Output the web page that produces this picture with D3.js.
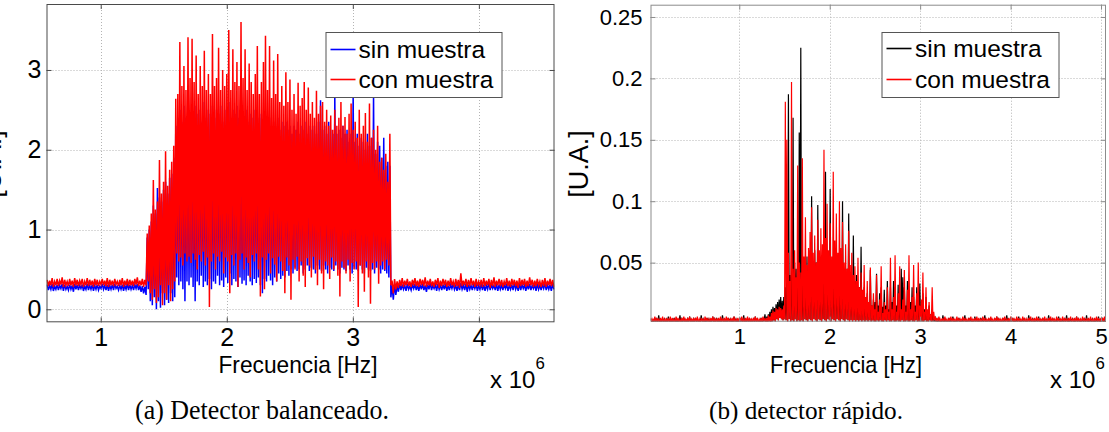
<!DOCTYPE html>
<html>
<head>
<meta charset="utf-8">
<script src="https://cdn.jsdelivr.net/npm/d3@7"></script>
<style>
  html, body { margin: 0; padding: 0; background: #fff; }
  svg { display: block; }
</style>
</head>
<body>
<svg id="fig" width="1109" height="432"></svg>
<script>
// ---------------- data ----------------
const seriesNames = ["sin muestra", "con muestra"];

// tick values (frequency in units of 10^6 Hz)
const ticksAx = [1, 2, 3, 4];
const ticksAy = [0, 1, 2, 3];
const ticksBx = [1, 2, 3, 4, 5];
const ticksBy = [0.05, 0.1, 0.15, 0.2, 0.25];

// frequency stretches (x 10^6 Hz); each series array below is sampled evenly over its stretch,
// alternating local maxima and minima of the spectrum
const spansA = [[0.57, 1.365], [1.365, 3.306], [3.306, 4.6]];
const spansB = [[0.0185, 1.30], [1.30, 3.18], [3.18, 5.055]];

// (a) detector balanceado — sin muestra
const sinA1 = [
  .31,.24,.30,.25,.32,.23,.29,.25,.31,.24,.30,.26,.32,.23,.31,.25,.29,.24,.31,.25,
  .30,.22,.32,.25,.31,.24,.30,.26,.31,.23,.29,.25,.32,.24,.30,.25,.31,.23,.30,.25,
  .31,.24,.29,.26,.32,.25,.30,.24,.31,.23,.30,.25,.31,.24,.32,.26,.29,.24,.30,.25,
  .31,.23,.30,.25,.32,.24,.31,.25,.30,.24,.31,.26,.32,.24,.30,.22,.29,.20,.28,.18
];
const sinA2 = [
  .90,.25,1.00,.10,1.10,.05,1.30,.15,1.20,.00,1.52,.10,1.40,.02,1.35,.20,1.50,.05,1.60,.12,
  1.45,.08,1.65,.20,1.70,.10,1.90,.15,2.30,.40,2.40,.30,2.50,.35,2.35,.25,2.55,.10,2.40,.35,
  2.60,.30,2.45,.40,2.50,.28,2.40,.10,2.55,.35,2.45,.30,2.50,.42,2.35,.28,2.60,.35,2.40,.30,
  2.50,.38,2.45,.25,2.55,.35,2.40,.32,2.50,.42,2.45,.30,2.55,.36,2.35,.28,2.50,.40,2.45,.33,
  2.60,.45,2.40,.30,2.50,.38,2.45,.35,2.55,.28,2.40,.40,2.50,.32,2.45,.36,2.40,.30,2.50,.42,
  2.35,.35,2.45,.30,2.40,.38,2.50,.33,2.35,.40,2.40,.30,2.45,.20,2.35,.38,2.40,.35,2.30,.42,
  2.40,.36,2.30,.30,2.35,.40,2.30,.35,2.40,.45,2.25,.38,2.35,.42,2.30,.40,2.35,.48,2.25,.42,
  2.30,.50,2.20,.45,2.30,.52,2.25,.48,2.35,.50,2.20,.55,2.30,.45,2.25,.50,2.35,.55,2.20,.48,
  2.30,.52,2.25,.50,2.30,.45,2.20,.55,2.35,.50,2.62,.48,2.25,.55,2.30,.50,2.20,.45,2.35,.52,
  2.25,.50,2.20,.48,2.72,.55,2.20,.50,2.25,.45,2.15,.52,2.30,.50,2.20,.48,2.25,.55,2.10,.50,
  2.20,.45,2.75,.52,2.10,.50,2.20,.48,2.05,.55,2.15,.50,2.10,.45,2.00,.52,2.20,.50,2.05,.48,
  2.15,.50,2.70,.45,1.95,.52,2.10,.50,2.05,.45,1.90,.50,2.15,.48,1.80,.45,1.85,.40,1.80,.15
];
const sinA3 = [
  .30,.12,.31,.18,.30,.22,.32,.24,.31,.25,.30,.23,.32,.25,.29,.24,.31,.26,.32,.24,
  .30,.23,.31,.25,.32,.24,.30,.22,.31,.25,.33,.24,.30,.26,.31,.23,.32,.25,.30,.24,
  .31,.25,.32,.23,.30,.24,.31,.26,.32,.25,.30,.23,.31,.24,.33,.25,.30,.24,.32,.22,
  .31,.25,.30,.24,.32,.26,.31,.23,.30,.25,.32,.24,.31,.23,.30,.25,.33,.24,.31,.26,
  .30,.24,.32,.23,.31,.25,.30,.24,.32,.26,.31,.23,.30,.25,.31,.24,.33,.25,.30,.23,
  .32,.24,.31,.26,.30,.23,.31,.25,.32,.24,.30,.26,.31,.23,.32,.25,.30,.24,.31,.26,
  .32,.24,.30,.25,.31,.23,.32,.25
];

// (a) detector balanceado — con muestra
const conA1 = [
  .37,.29,.36,.30,.39,.28,.35,.30,.38,.29,.36,.31,.40,.28,.37,.30,.35,.29,.38,.30,
  .36,.28,.39,.30,.37,.29,.36,.31,.38,.28,.35,.30,.39,.29,.37,.30,.36,.28,.38,.30,
  .37,.29,.35,.31,.38,.30,.36,.29,.39,.28,.37,.30,.36,.29,.38,.31,.35,.29,.37,.30,
  .39,.28,.36,.30,.38,.29,.37,.30,.36,.29,.38,.31,.40,.29,.36,.30,.38,.28,.37,.30
];
const conA2 = [
  .95,.35,1.05,.20,1.20,.12,1.62,.25,1.25,.08,1.35,.15,1.87,.30,1.45,.05,1.60,.20,1.98,.12,
  1.55,.30,1.75,.10,1.85,.25,2.05,.35,2.64,.70,2.70,.60,3.35,.65,2.80,.55,3.05,.70,2.75,.60,
  3.41,.66,2.90,.58,3.39,.70,2.85,.62,3.18,.50,2.70,.68,3.05,.60,2.80,.72,3.24,.55,2.75,.65,
  2.95,.03,2.70,.60,3.45,.70,2.80,.50,2.90,.66,3.28,.60,2.75,.72,3.00,.45,2.80,.65,2.95,.60,
  3.50,.20,2.75,.68,3.26,.55,2.85,.70,3.10,.28,2.80,.62,3.60,.70,2.90,.50,3.26,.65,2.75,.58,
  3.08,.40,2.85,.68,2.70,.60,2.95,.70,3.30,.50,2.70,.16,2.85,.65,3.10,.25,3.43,.62,2.75,.70,
  3.30,.45,2.65,.64,3.12,.56,2.70,.35,3.20,.66,2.60,.60,2.80,.48,2.55,.20,2.97,.65,2.60,.55,
  2.88,.12,2.50,.62,2.70,.50,2.45,.66,2.84,.35,2.55,.60,2.65,.42,2.85,.28,2.50,.64,2.78,.55,
  2.45,.40,2.60,.66,2.40,.50,2.74,.30,2.45,.62,2.55,.45,2.60,.25,2.35,.60,2.50,.55,2.30,.38,
  2.43,.65,2.25,.50,2.50,.60,2.30,.42,2.40,.16,2.60,.60,2.30,.52,2.41,.45,2.20,.62,2.45,.35,
  2.58,.58,2.25,.50,2.35,.60,2.15,.03,2.50,.55,2.20,.45,2.30,.22,2.46,.60,2.10,.40,2.58,.07,
  2.15,.58,2.25,.50,2.00,.60,2.30,.32,1.85,.55,1.90,.60,1.75,.50,1.95,.62,1.60,.55,2.20,.30
];
const conA3 = [
  .36,.20,.38,.25,.35,.27,.37,.29,.39,.28,.36,.30,.38,.29,.35,.28,.37,.30,.39,.29,
  .36,.28,.38,.30,.37,.29,.40,.28,.36,.30,.38,.29,.35,.28,.37,.30,.39,.27,.36,.29,
  .38,.30,.37,.28,.36,.29,.39,.30,.35,.28,.38,.29,.37,.27,.45,.29,.36,.30,.38,.28,
  .37,.29,.39,.30,.36,.28,.38,.29,.35,.30,.37,.28,.39,.29,.36,.30,.38,.27,.37,.29,
  .40,.28,.36,.30,.38,.29,.37,.28,.35,.30,.39,.29,.36,.28,.38,.30,.37,.29,.36,.27,
  .39,.29,.37,.30,.38,.28,.36,.29,.40,.30,.37,.28,.36,.29,.38,.30,.35,.28,.37,.29,
  .39,.28,.36,.30,.38,.29,.37,.28
];

// (b) detector rápido — sin muestra
const sinB1 = [
  .004,.001,.003,.001,.005,.002,.004,.001,.007,.001,.003,.002,.004,.001,.005,.001,.003,.002,.006,.001,
  .004,.001,.003,.002,.005,.001,.004,.001,.003,.002,.007,.001,.004,.001,.005,.002,.003,.001,.004,.001,
  .006,.002,.003,.001,.004,.001,.005,.002,.004,.001,.003,.001,.007,.002,.004,.001,.003,.001,.005,.002,
  .004,.001,.003,.002,.006,.001,.004,.001,.005,.002,.003,.001,.004,.001,.007,.002,.003,.001,.004,.001,
  .005,.002,.004,.001,.003,.001,.006,.002,.004,.001,.003,.001,.005,.002,.004,.001,.007,.001,.003,.002,
  .004,.001,.005,.001,.003,.002,.004,.001,.006,.001,.004,.002,.003,.001,.005,.001,.004,.002,.008,.001
];
const sinB2 = [
  .006,.001,.008,.002,.010,.001,.012,.002,.014,.003,.013,.002,.016,.004,.018,.003,.020,.005,.022,.004,
  .019,.003,.022,.004,.030,.003,.045,.002,.187,.004,.040,.002,.060,.003,.168,.002,.050,.004,.045,.002,
  .045,.003,.156,.002,.225,.003,.040,.002,.050,.004,.040,.003,.055,.002,.045,.004,.060,.003,.104,.002,
  .045,.004,.060,.003,.050,.002,.097,.004,.045,.003,.055,.002,.040,.004,.060,.003,.124,.002,.050,.004,
  .055,.003,.110,.002,.045,.004,.050,.003,.060,.002,.045,.004,.050,.003,.045,.002,.040,.004,.100,.003,
  .045,.002,.040,.004,.045,.003,.090,.002,.040,.003,.035,.002,.072,.003,.035,.002,.040,.003,.030,.002,
  .030,.003,.063,.002,.025,.003,.030,.002,.020,.003,.025,.002,.018,.003,.044,.002,.015,.003,.020,.002,
  .018,.002,.041,.003,.015,.002,.025,.003,.030,.002,.014,.002,.028,.003,.015,.002,.035,.003,.012,.002,
  .030,.002,.018,.003,.035,.002,.030,.002,.015,.003,.032,.002,.020,.002,.045,.003,.038,.002,.030,.002,
  .015,.003,.035,.002,.025,.002,.018,.003,.030,.002,.022,.002,.015,.003,.030,.002,.020,.002,.033,.003,
  .015,.002,.025,.002,.012,.003,.022,.002,.010,.002,.015,.003,.008,.002,.012,.002,.006,.003,.005,.002
];
const sinB3 = [
  .004,.001,.005,.002,.003,.001,.007,.001,.004,.002,.003,.001,.005,.001,.004,.002,.006,.001,.003,.001,
  .004,.002,.005,.001,.003,.001,.004,.002,.007,.001,.003,.001,.005,.002,.004,.001,.003,.001,.006,.002,
  .004,.001,.003,.001,.005,.002,.004,.001,.007,.001,.003,.002,.004,.001,.005,.001,.003,.002,.004,.001,
  .006,.001,.004,.002,.003,.001,.005,.001,.004,.002,.007,.001,.003,.001,.004,.002,.005,.001,.003,.001,
  .004,.002,.006,.001,.003,.001,.005,.002,.004,.001,.003,.001,.007,.002,.004,.001,.005,.001,.003,.002,
  .004,.001,.006,.001,.003,.002,.005,.001,.004,.001,.003,.002,.007,.001,.004,.001,.005,.002,.003,.001,
  .004,.001,.006,.002,.003,.001,.005,.001,.004,.002,.007,.001,.003,.001,.004,.002,.005,.001,.003,.001,
  .006,.002,.004,.001,.003,.001,.005,.002,.004,.001,.007,.001,.003,.002,.004,.001,.005,.001,.003,.002,
  .004,.001,.006,.001,.003,.002,.005,.001,.004,.001
];

// (b) detector rápido — con muestra
const conB1 = [
  .005,.001,.004,.002,.006,.001,.005,.002,.004,.001,.005,.001,.006,.002,.004,.001,.005,.002,.004,.001,
  .006,.001,.005,.002,.004,.001,.006,.002,.005,.001,.004,.001,.005,.002,.006,.001,.004,.002,.005,.001,
  .006,.001,.004,.002,.005,.001,.005,.002,.006,.001,.004,.001,.005,.002,.004,.001,.006,.002,.005,.001,
  .004,.001,.005,.002,.006,.001,.005,.001,.004,.002,.005,.001,.006,.002,.004,.001,.005,.001,.006,.002,
  .005,.001,.004,.002,.005,.001,.006,.001,.004,.002,.005,.001,.005,.002,.006,.001,.004,.001,.005,.002,
  .006,.001,.005,.002,.004,.001,.005,.002,.006,.001,.005,.001,.004,.002,.005,.001,.006,.002,.005,.001
];
const conB2 = [
  .005,.001,.007,.002,.006,.001,.009,.002,.011,.003,.010,.002,.013,.004,.012,.003,.014,.005,.013,.004,
  .012,.003,.015,.004,.181,.003,.150,.002,.058,.004,.035,.002,.197,.003,.045,.002,.060,.004,.038,.002,
  .129,.003,.050,.002,.042,.003,.135,.002,.055,.004,.087,.003,.048,.002,.062,.004,.075,.003,.095,.002,
  .058,.004,.072,.003,.050,.002,.085,.004,.060,.003,.078,.002,.065,.004,.142,.003,.070,.002,.098,.004,
  .060,.003,.082,.002,.055,.004,.124,.003,.068,.002,.090,.004,.058,.003,.100,.002,.062,.004,.083,.003,
  .050,.002,.065,.004,.045,.003,.076,.002,.048,.003,.058,.002,.040,.003,.047,.002,.035,.003,.054,.002,
  .030,.003,.042,.002,.028,.003,.048,.002,.022,.003,.035,.002,.018,.003,.046,.002,.015,.003,.025,.002,
  .012,.002,.040,.003,.010,.002,.020,.003,.047,.002,.009,.002,.018,.003,.012,.002,.030,.003,.010,.002,
  .054,.002,.012,.003,.022,.002,.056,.002,.010,.003,.025,.002,.047,.002,.012,.003,.020,.002,.044,.002,
  .010,.003,.028,.002,.056,.002,.012,.003,.022,.002,.048,.002,.010,.003,.025,.002,.050,.002,.015,.003,
  .020,.002,.042,.002,.010,.003,.030,.002,.012,.002,.018,.003,.008,.002,.030,.002,.010,.003,.006,.002
];
const conB3 = [
  .005,.002,.006,.001,.004,.002,.005,.001,.006,.002,.004,.001,.005,.002,.006,.001,.005,.002,.004,.001,
  .006,.002,.005,.001,.004,.002,.006,.001,.005,.002,.004,.001,.005,.002,.006,.001,.004,.002,.005,.001,
  .006,.001,.005,.002,.004,.001,.006,.002,.005,.001,.004,.002,.005,.001,.006,.002,.004,.001,.005,.002,
  .006,.001,.005,.002,.004,.001,.005,.002,.006,.001,.004,.002,.005,.001,.006,.002,.005,.001,.004,.002,
  .006,.001,.005,.002,.004,.001,.006,.002,.005,.001,.004,.001,.005,.002,.006,.001,.004,.002,.005,.001,
  .006,.002,.005,.001,.004,.002,.005,.001,.006,.002,.004,.001,.005,.002,.006,.001,.005,.002,.004,.001,
  .006,.002,.005,.001,.004,.002,.006,.001,.005,.002,.004,.001,.005,.002,.006,.001,.004,.002,.005,.001,
  .006,.001,.005,.002,.004,.001,.006,.002,.005,.001,.004,.002,.005,.001,.006,.002,.004,.001,.005,.002,
  .006,.001,.005,.002,.004,.001,.005,.002,.006,.001
];

// ---------------- drawing ----------------
const SANS = "'Liberation Sans', Arial, Helvetica, sans-serif";
const SERIF = "'Liberation Serif', 'Times New Roman', serif";
const svg = d3.select("#fig");

function samples(spans, parts) {
  return parts.flatMap((vals, k) => {
    const [a, b] = spans[k];
    const n = vals.length;
    return vals.map((v, j) => [a + (b - a) * (j + 0.5) / n, v]);
  });
}

function drawPanel(p) {
  const x = d3.scaleLinear().domain(p.xDomain).range([p.left, p.right]);
  const y = d3.scaleLinear().domain(p.yDomain).range([p.bottom, p.top]);
  const g = svg.append("g");

  // dotted grid
  const grid = g.append("g").attr("stroke", "#b4b4b4").attr("stroke-width", 1)
    .attr("stroke-dasharray", "1,2");
  grid.selectAll("line.gx").data(p.xTicks).join("line").attr("class", "gx")
    .attr("x1", d => Math.round(x(d)) + 0.5).attr("x2", d => Math.round(x(d)) + 0.5)
    .attr("y1", p.top).attr("y2", p.bottom);
  grid.selectAll("line.gy").data(p.yTicks).join("line").attr("class", "gy")
    .attr("y1", d => Math.round(y(d)) + 0.5).attr("y2", d => Math.round(y(d)) + 0.5)
    .attr("x1", p.left).attr("x2", p.right);

  // spectra
  const clipId = "clip-" + p.id;
  svg.append("clipPath").attr("id", clipId).append("rect")
    .attr("x", p.left).attr("y", p.top)
    .attr("width", p.right - p.left).attr("height", p.bottom - p.top);
  const line = d3.line().x(d => x(d[0])).y(d => y(d[1]));
  const plot = g.append("g").attr("clip-path", `url(#${clipId})`);
  p.series.forEach(s => {
    plot.append("path").datum(samples(p.spans, s.parts))
      .attr("d", line)
      .style("fill", "none").style("stroke", s.color).style("stroke-width", p.lineWidth);
  });

  // axes with inward ticks on all four sides
  const styleAxis = sel => {
    sel.select(".domain").remove();
    sel.selectAll(".tick line").attr("stroke", p.axisColor);
    sel.selectAll(".tick text").attr("fill", "#000").attr("font-family", SANS)
      .attr("font-size", p.tickFont);
  };
  g.append("g").attr("transform", `translate(0,${p.bottom})`)
    .call(d3.axisBottom(x).tickValues(p.xTicks).tickSize(-5).tickPadding(p.xPad)
      .tickFormat(p.xFormat)).call(styleAxis);
  g.append("g").attr("transform", `translate(0,${p.top})`)
    .call(d3.axisTop(x).tickValues(p.xTicks).tickSize(-5).tickFormat("")).call(styleAxis);
  g.append("g").attr("transform", `translate(${p.left},0)`)
    .call(d3.axisLeft(y).tickValues(p.yTicks).tickSize(-5).tickPadding(p.yPad)
      .tickFormat(p.yFormat)).call(styleAxis);
  g.append("g").attr("transform", `translate(${p.right},0)`)
    .call(d3.axisRight(y).tickValues(p.yTicks).tickSize(-5).tickFormat("")).call(styleAxis);

  g.append("rect").attr("x", p.left + 0.5).attr("y", p.top + 0.5)
    .attr("width", p.right - p.left - 1).attr("height", p.bottom - p.top - 1)
    .attr("fill", "none").attr("stroke", p.axisColor).attr("stroke-width", 1);

  // legend
  const L = p.legend;
  const lg = g.append("g");
  lg.append("rect").attr("x", L.x + 0.5).attr("y", L.y + 0.5).attr("width", L.w).attr("height", L.h)
    .attr("fill", "#fff").attr("stroke", "#555").attr("stroke-width", 1);
  p.series.forEach((s, i) => {
    const cy = L.y + L.row0 + i * L.dy;
    lg.append("path").attr("d", `M${L.x + L.lx0},${cy}H${L.x + L.lx1}`)
      .style("fill", "none").style("stroke", s.color).style("stroke-width", 1.6);
    lg.append("text").attr("x", L.x + L.tx).attr("y", cy).attr("dy", "0.35em")
      .attr("font-family", SANS).attr("font-size", L.font).attr("fill", "#000")
      .text(s.name);
  });

  // labels
  g.append("text").attr("x", p.xLabel.x).attr("y", p.xLabel.y).attr("text-anchor", "middle")
    .attr("font-family", SANS).attr("font-size", p.xLabel.font)
    .attr("textLength", p.xLabel.len).attr("lengthAdjust", "spacingAndGlyphs")
    .text("Frecuencia [Hz]");
  const ex = g.append("text").attr("x", p.expo.x).attr("y", p.expo.y)
    .attr("font-family", SANS).attr("font-size", p.expo.font);
  ex.append("tspan").text("x 10");
  ex.append("tspan").attr("dy", -p.expo.font * 0.8).attr("font-size", p.expo.font * 0.7).text("6");
  g.append("text").attr("transform", `translate(${p.yLabel.x},${p.yLabel.y}) rotate(-90)`)
    .attr("text-anchor", "middle").attr("font-family", SANS).attr("font-size", p.yLabel.font)
    .text("[U.A.]");
  g.append("text").attr("x", p.caption.x).attr("y", p.caption.y).attr("text-anchor", "middle")
    .attr("font-family", SERIF).attr("font-size", p.caption.font)
    .attr("textLength", p.caption.len).attr("lengthAdjust", "spacingAndGlyphs")
    .text(p.caption.text);
}

drawPanel({
  id: "a",
  left: 46.5, right: 554.5, top: 4, bottom: 322.3,
  xDomain: [0.57, 4.6], yDomain: [-0.163, 3.827],
  xTicks: ticksAx, yTicks: ticksAy,
  xFormat: d3.format("d"), yFormat: d3.format("d"),
  spans: spansA, lineWidth: 1.5,
  series: [
    { name: seriesNames[0], color: "#0000ff", parts: [sinA1, sinA2, sinA3] },
    { name: seriesNames[1], color: "#ff0000", parts: [conA1, conA2, conA3] }
  ],
  axisColor: "#4a4a4a", tickFont: 25, xPad: 6, yPad: 5,
  legend: { x: 325.5, y: 32, w: 176, h: 65, row0: 17.5, dy: 30, lx0: 5, lx1: 30, tx: 33, font: 24.5 },
  xLabel: { x: 298, y: 373, font: 24, len: 159 },
  expo: { x: 490, y: 388, font: 24 },
  yLabel: { x: 1, y: 164, font: 27 },
  caption: { x: 262, y: 419, font: 27, len: 254, text: "(a) Detector balanceado." }
});

drawPanel({
  id: "b",
  left: 650.5, right: 1106, top: 4.7, bottom: 321.7,
  xDomain: [0.0185, 5.055], yDomain: [0.0019, 0.26],
  xTicks: ticksBx, yTicks: ticksBy,
  xFormat: d3.format("d"), yFormat: d => String(d),
  spans: spansB, lineWidth: 1.2,
  series: [
    { name: seriesNames[0], color: "#000000", parts: [sinB1, sinB2, sinB3] },
    { name: seriesNames[1], color: "#ff0000", parts: [conB1, conB2, conB3] }
  ],
  axisColor: "#8c8c8c", tickFont: 22, xPad: 7, yPad: 8,
  legend: { x: 881.5, y: 32, w: 177, h: 65, row0: 16.5, dy: 31, lx0: 5, lx1: 30, tx: 33.5, font: 24.5 },
  xLabel: { x: 846, y: 373, font: 24, len: 152 },
  expo: { x: 1050, y: 388, font: 24 },
  yLabel: { x: 588, y: 164, font: 27 },
  caption: { x: 806, y: 419, font: 26, len: 194, text: "(b) detector rápido." }
});
</script>
</body>
</html>
